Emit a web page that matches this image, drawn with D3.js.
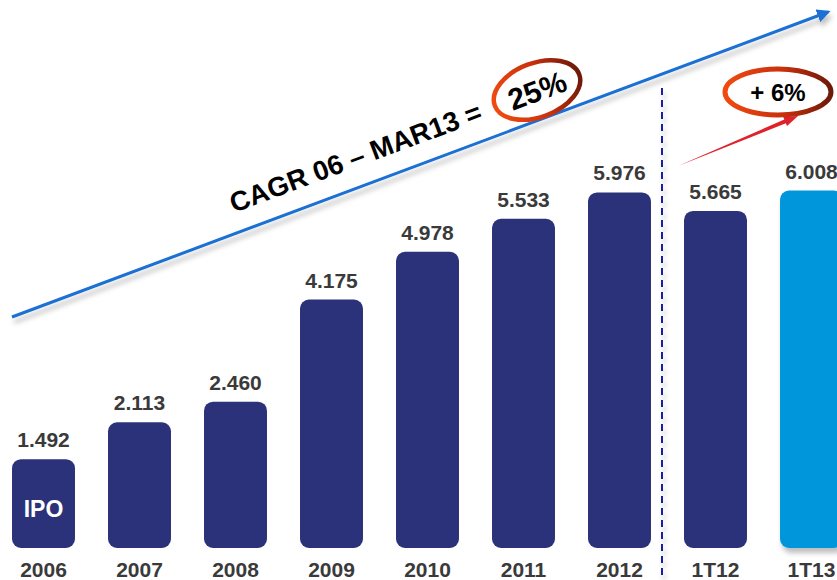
<!DOCTYPE html>
<html>
<head>
<meta charset="utf-8">
<script src="https://cdn.jsdelivr.net/npm/d3@7"></script>
<style>
  body { margin: 0; background: #fff; overflow: hidden; }
  svg { display: block; font-family: "Liberation Sans", Arial, sans-serif; }
</style>
</head>
<body>
<svg id="chart" width="837" height="580"></svg>
<script>
// data
var periods = ["2006", "2007", "2008", "2009", "2010", "2011", "2012", "1T12", "1T13"];
var values = [1.492, 2.113, 2.460, 4.175, 4.978, 5.533, 5.976, 5.665, 6.008];
var valueLabels = ["1.492", "2.113", "2.460", "4.175", "4.978", "5.533", "5.976", "5.665", "6.008"];
var cagrText = "CAGR 06 \u2013 MAR13 =";
var cagrValue = "25%";
var growthText = "+ 6%";

var width = 837, height = 580;
var bottom = 548;

var svg = d3.select("#chart");
var defs = svg.append("defs");

// soft grey shadow under lines (user space so thin lines keep it)
var shadow = defs.append("filter").attr("id", "shadow")
    .attr("filterUnits", "userSpaceOnUse")
    .attr("x", 0).attr("y", 0).attr("width", width).attr("height", height);
shadow.append("feDropShadow")
    .attr("dx", 2).attr("dy", 5).attr("stdDeviation", 2.5)
    .attr("flood-color", "#000").attr("flood-opacity", 0.25);

var ringGrad = defs.append("linearGradient").attr("id", "ring")
    .attr("x1", "0%").attr("x2", "100%").attr("y1", "0%").attr("y2", "0%");
ringGrad.append("stop").attr("offset", "0%").attr("stop-color", "#f04a10");
ringGrad.append("stop").attr("offset", "55%").attr("stop-color", "#c8300c");
ringGrad.append("stop").attr("offset", "100%").attr("stop-color", "#6e1a08");

defs.append("marker").attr("id", "blueHead")
    .attr("viewBox", "0 0 10 10").attr("refX", 8).attr("refY", 5)
    .attr("markerWidth", 4.5).attr("markerHeight", 4.5).attr("orient", "auto")
    .append("path").attr("d", "M0,0 L10,5 L0,10 z").attr("fill", "#1a6fd4");

var x = d3.scaleBand()
    .domain(periods)
    .range([-4.5, 859.5])
    .paddingInner(0.344)
    .paddingOuter(0.172);

var y = d3.scaleLinear()
    .domain([0, 1])
    .range([bottom, bottom - 59.5]);

// bars
svg.selectAll(".bar")
    .data(values)
    .enter().append("rect")
    .attr("class", "bar")
    .attr("x", function (d, i) { return x(periods[i]); })
    .attr("y", function (d) { return y(d); })
    .attr("width", x.bandwidth())
    .attr("height", function (d) { return bottom - y(d); })
    .attr("rx", 9).attr("ry", 9)
    .attr("fill", function (d, i) { return i == periods.length - 1 ? "#0096dc" : "#2b3279"; })
    .style("filter", function (d, i) { return i == periods.length - 1 ? "url(#shadow)" : null; });

// value labels
svg.selectAll(".val")
    .data(values)
    .enter().append("text")
    .attr("class", "val")
    .attr("x", function (d, i) { return x(periods[i]) + x.bandwidth() / 2; })
    .attr("y", function (d) { return y(d) - 12; })
    .attr("text-anchor", "middle")
    .attr("font-size", 21).attr("font-weight", "bold")
    .attr("fill", "#3a3a3a")
    .text(function (d, i) { return valueLabels[i]; });

// category labels
var xAxis = svg.append("g")
    .attr("transform", "translate(0," + 562 + ")")
    .call(d3.axisBottom(x).tickSize(0).tickPadding(0));
xAxis.select(".domain").remove();
xAxis.selectAll("text")
    .attr("dy", "0.72em")
    .attr("font-size", 21).attr("font-weight", "bold")
    .attr("font-family", "Liberation Sans, Arial, sans-serif")
    .attr("fill", "#3a3a3a");

// IPO tag in first bar
svg.append("text")
    .attr("x", x(periods[0]) + x.bandwidth() / 2)
    .attr("y", 517)
    .attr("text-anchor", "middle")
    .attr("font-size", 23).attr("font-weight", "bold")
    .attr("fill", "#fff")
    .text("IPO");

// dashed separator
svg.append("line")
    .attr("x1", 662).attr("x2", 662)
    .attr("y1", 88).attr("y2", 580)
    .attr("stroke", "#1a1fa0").attr("stroke-width", 2)
    .attr("stroke-dasharray", "7,5")
    .style("filter", "url(#shadow)");

// trend arrow
svg.append("line")
    .attr("x1", 12).attr("y1", 317)
    .attr("x2", 828).attr("y2", 12)
    .attr("stroke", "#1a6fd4").attr("stroke-width", 3)
    .attr("marker-end", "url(#blueHead)")
    .style("filter", "url(#shadow)");

var angle = Math.atan2(12 - 317, 828 - 12) * 180 / Math.PI;

svg.append("text")
    .attr("transform", "translate(234,213) rotate(" + angle + ")")
    .attr("font-size", 27.5).attr("font-weight", "bold")
    .attr("fill", "#000")
    .text(cagrText);

// 25% with ring
var g25 = svg.append("g").attr("transform", "translate(537,90) rotate(" + angle + ")");
g25.append("ellipse")
    .attr("rx", 45).attr("ry", 27)
    .attr("fill", "none").attr("stroke", "url(#ring)").attr("stroke-width", 4.5);
g25.append("text")
    .attr("y", 11)
    .attr("text-anchor", "middle")
    .attr("font-size", 30).attr("font-weight", "bold")
    .attr("fill", "#000")
    .text(cagrValue);

// red growth arrow (tapered)
var ax0 = 678, ay0 = 166, ax1 = 798, ay1 = 116;
var ang = Math.atan2(ay1 - ay0, ax1 - ax0);
var nx = -Math.sin(ang), ny = Math.cos(ang);
var ux = Math.cos(ang), uy = Math.sin(ang);
var hb = 14; // head length
var bx = ax1 - ux * hb, by = ay1 - uy * hb;
svg.append("path")
    .attr("d", d3.line()([
        [ax0, ay0],
        [bx + nx * 2, by + ny * 2],
        [bx + nx * 5, by + ny * 5],
        [ax1, ay1],
        [bx - nx * 5, by - ny * 5],
        [bx - nx * 2, by - ny * 2]
    ]) + "Z")
    .attr("fill", "#e0202a");

// +6% with ring
var g6 = svg.append("g").attr("transform", "translate(778,92)");
g6.append("ellipse")
    .attr("rx", 53).attr("ry", 23)
    .attr("fill", "none").attr("stroke", "url(#ring)").attr("stroke-width", 5);
g6.append("text")
    .attr("y", 8.5)
    .attr("text-anchor", "middle")
    .attr("font-size", 24).attr("font-weight", "bold")
    .attr("fill", "#000")
    .text(growthText);
</script>
</body>
</html>
